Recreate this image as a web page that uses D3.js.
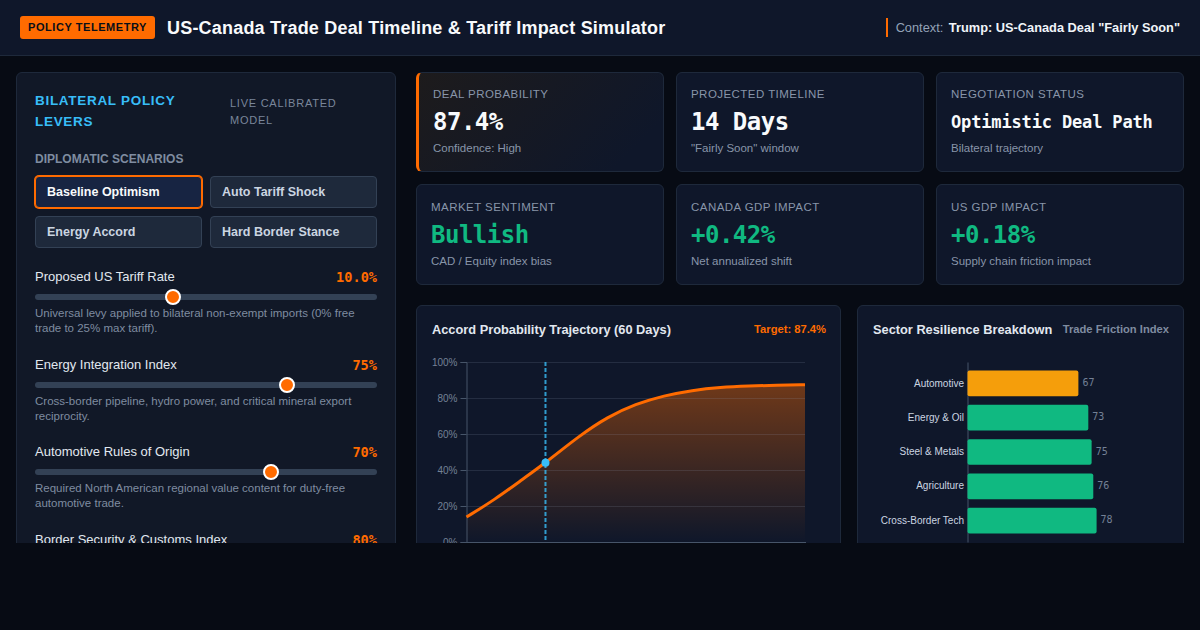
<!DOCTYPE html>
<html>
<head>
<meta charset="utf-8">
<style>
  * { box-sizing: border-box; }
  html, body { margin: 0; height: 100%; background: #070b14; overflow: hidden; }
  body { font-family: "Liberation Sans", Arial, sans-serif; color: #e2e8f0; }
  .mono { font-family: "DejaVu Sans Mono", monospace; font-weight: 700; }
  #app { position: relative; width: 1200px; height: 543px; overflow: hidden; }
  header { position: absolute; left: 0; top: 0; width: 1200px; height: 56px; background: #0f172a; border-bottom: 1px solid #1e293b; }
  .badge { position: absolute; left: 20px; top: 16px; width: 135px; height: 23px; background: #ff6b00; border-radius: 3px; color: #0a0f18; font-size: 11px; font-weight: 700; letter-spacing: .55px; line-height: 23px; text-align: center; }
  h1 { position: absolute; left: 167px; top: 16px; margin: 0; font-size: 18px; letter-spacing: .2px; line-height: 24px; font-weight: 700; color: #f8fafc; white-space: nowrap; }
  .context { position: absolute; right: 20px; top: 18px; height: 19px; border-left: 2px solid #ff6b00; padding-left: 8px; font-size: 12.8px; line-height: 19px; color: #94a3b8; white-space: nowrap; }
  .context b { color: #f1f5f9; margin-left: 2px; }
  #panel { position: absolute; left: 16px; top: 72px; width: 380px; height: 560px; background: #111827; border: 1px solid #1e293b; border-radius: 6px; }
  .ptitle { position: absolute; left: 18px; top: 17px; width: 170px; font-size: 13.5px; line-height: 21px; font-weight: 700; letter-spacing: .7px; color: #38bdf8; }
  .psub { position: absolute; left: 213px; top: 22px; width: 140px; font-size: 11px; line-height: 17px; letter-spacing: .75px; color: #7a869a; }
  .slabel { position: absolute; left: 18px; top: 79px; font-size: 12px; line-height: 14px; font-weight: 700; color: #7f8ca0; }
  #scenarios { position: absolute; left: 18px; top: 103px; width: 342px; display: grid; grid-template-columns: 1fr 1fr; gap: 8px; }
  .scenario { height: 32px; border: 1px solid #334155; border-radius: 4px; background: #1e293b; color: #cbd5e1; font-size: 12.5px; font-weight: 700; line-height: 30px; padding-left: 11px; }
  .scenario.on { background: #172442; border: 1px solid #ff6b00; box-shadow: 0 0 0 1px #ff6b00; color: #f8fafc; }
  .lever { position: absolute; left: 18px; width: 342px; height: 80px; }
  .lever .name { position: absolute; left: 0; top: 0; font-size: 13px; line-height: 16px; color: #e2e8f0; white-space: nowrap; }
  .lever .val { position: absolute; right: 0; top: 0; font-size: 13.6px; line-height: 16px; color: #ff6b00; }
  .lever .track { position: absolute; left: 0; top: 25px; width: 342px; height: 6px; border-radius: 3px; background: #334155; }
  .lever .thumb { position: absolute; top: 20px; width: 16px; height: 16px; margin-left: -8px; border-radius: 50%; background: #ff6b00; border: 2px solid #fff; }
  .lever .desc { position: absolute; left: 0; top: 37px; width: 342px; font-size: 11.5px; line-height: 15px; color: #7f8ca0; }
  #cards { position: absolute; left: 416px; top: 72px; width: 768px; display: grid; grid-template-columns: repeat(3, 248px); grid-template-rows: 100px 101px; gap: 12px; }
  .card { position: relative; background: #0f172a; border: 1px solid #1e293b; border-radius: 6px; padding: 0 14px; }
  .card.hot { border-left: 3px solid #ff6b00; background: linear-gradient(135deg, #1d1b1c, #0f172a 85%); }
  .card.low .lab, .card.low .note { margin-top: 1px; }
  .card.low .big { margin-top: 1px; }
  .card .lab { position: absolute; top: 14px; font-size: 11.5px; line-height: 14px; letter-spacing: .45px; color: #8895a9; text-transform: uppercase; white-space: nowrap; }
  .card .big { position: absolute; top: 34px; font-size: 24px; letter-spacing: -.5px; line-height: 30px; color: #f8fafc; white-space: nowrap; }
  .card .big.small { font-size: 17px; letter-spacing: -.15px; }
  .card .big.up { color: #10b981; }
  .card .note { position: absolute; top: 68px; font-size: 11.5px; line-height: 14px; color: #8895a9; white-space: nowrap; }
  .chart { position: absolute; top: 305px; height: 300px; background: #0f172a; border: 1px solid #1e293b; border-radius: 6px; }
  .chart svg { position: absolute; left: -1px; top: -1px; }
  .chart .ct { position: absolute; left: 15px; top: 16px; font-size: 12.8px; line-height: 16px; font-weight: 700; color: #e2e8f0; white-space: nowrap; }
  .chart .cr { position: absolute; right: 14px; top: 16px; font-size: 11.2px; line-height: 15px; font-weight: 700; white-space: nowrap; }
  .tick text { font-family: "Liberation Sans", Arial, sans-serif; }
</style>
</head>
<body>
<div id="app">
  <header>
    <div class="badge">POLICY TELEMETRY</div>
    <h1>US-Canada Trade Deal Timeline &amp; Tariff Impact Simulator</h1>
    <div class="context">Context: <b>Trump: US-Canada Deal "Fairly Soon"</b></div>
  </header>
  <div id="panel">
    <div class="ptitle">BILATERAL POLICY LEVERS</div>
    <div class="psub">LIVE CALIBRATED MODEL</div>
    <div class="slabel">DIPLOMATIC SCENARIOS</div>
    <div id="scenarios"></div>
  </div>
  <div id="cards"></div>
  <div class="chart" style="left:416px;width:425px" id="lineCard">
    <div class="ct">Accord Probability Trajectory (60 Days)</div>
    <div class="cr" style="color:#ff6b00">Target: 87.4%</div>
  </div>
  <div class="chart" style="left:857px;width:327px" id="barCard">
    <div class="ct">Sector Resilience Breakdown</div>
    <div class="cr" style="color:#7f8ca0">Trade Friction Index</div>
  </div>
</div>

<script src="https://cdn.jsdelivr.net/npm/d3@7"></script>
<script>
// scenarios
var scenarioNames = ["Baseline Optimism", "Auto Tariff Shock", "Energy Accord", "Hard Border Stance"];
var activeScenario = "Baseline Optimism";

// policy levers
var leverNames = ["Proposed US Tariff Rate", "Energy Integration Index", "Automotive Rules of Origin", "Border Security & Customs Index"];
var leverValues = [10, 75, 70, 80];
var leverMax = [25, 100, 100, 100];
var leverLabels = ["10.0%", "75%", "70%", "80%"];
var leverNotes = [
  "Universal levy applied to bilateral non-exempt imports (0% free trade to 25% max tariff).",
  "Cross-border pipeline, hydro power, and critical mineral export reciprocity.",
  "Required North American regional value content for duty-free automotive trade.",
  ""
];

// kpi cards
var cardLabels = ["Deal Probability", "Projected Timeline", "Negotiation Status", "Market Sentiment", "Canada GDP Impact", "US GDP Impact"];
var cardValues = ["87.4%", "14 Days", "Optimistic Deal Path", "Bullish", "+0.42%", "+0.18%"];
var cardNotes = ["Confidence: High", "\"Fairly Soon\" window", "Bilateral trajectory", "CAD / Equity index bias", "Net annualized shift", "Supply chain friction impact"];

// trajectory
var days = [0, 5, 10, 14, 20, 25, 30, 35, 40, 45, 50, 55, 60];
var probability = [13.9, 23.5, 35, 44, 59, 69.5, 76.7, 81.3, 84.3, 86, 86.7, 87.1, 87.4];
var yTicks = [0, 20, 40, 60, 80, 100];
var markerDay = 14;

// sectors
var sectors = ["Automotive", "Energy & Oil", "Steel & Metals", "Agriculture", "Cross-Border Tech"];
var sectorScores = [67, 73, 75, 76, 78];

d3.select("#scenarios").selectAll("div").data(scenarioNames).enter().append("div")
  .attr("class", function (d) { return d === activeScenario ? "scenario on" : "scenario"; })
  .text(function (d) { return d; });

// levers are spaced evenly down the panel
var leverY = d3.scaleLinear().domain([0, 1]).range([196, 283.5]);
leverNames.forEach(function (name, i) {
  var thumbX = d3.scaleLinear().domain([0, leverMax[i]]).range([7.3, 333.3]);
  var g = d3.select("#panel").append("div").attr("class", "lever").style("top", leverY(i) + "px");
  g.append("div").attr("class", "name").text(name);
  g.append("div").attr("class", "val mono").text(leverLabels[i]);
  g.append("div").attr("class", "track");
  g.append("div").attr("class", "thumb").style("left", thumbX(leverValues[i]) + "px");
  g.append("div").attr("class", "desc").text(leverNotes[i]);
});

var cards = d3.select("#cards").selectAll("div").data(cardLabels).enter().append("div")
  .attr("class", function (d, i) { return (i === 0 ? "card hot" : "card") + (i >= 3 ? " low" : ""); });
cards.append("div").attr("class", "lab").text(function (d) { return d; });
cards.append("div")
  .attr("class", function (d, i) { return "big mono" + (i === 2 ? " small" : "") + (i >= 3 ? " up" : ""); })
  .text(function (d, i) { return cardValues[i]; });
cards.append("div").attr("class", "note").text(function (d, i) { return cardNotes[i]; });

// line chart
var lineSvg = d3.select("#lineCard").append("svg").attr("width", 425).attr("height", 300);
var x = d3.scaleLinear().domain([0, 60]).range([50.5, 389]);
var y = d3.scaleLinear().domain([0, 100]).range([237, 57]);

var defs = lineSvg.append("defs");
var grad = defs.append("linearGradient").attr("id", "areaFill").attr("x1", 0).attr("y1", 0).attr("x2", 0).attr("y2", 1);
grad.append("stop").attr("offset", "0%").attr("stop-color", "#ff6b00").attr("stop-opacity", 0.4);
grad.append("stop").attr("offset", "100%").attr("stop-color", "#ff6b00").attr("stop-opacity", 0);

var pts = days.map(function (d, i) { return [d, probability[i]]; });
lineSvg.append("path").datum(pts)
  .attr("fill", "url(#areaFill)")
  .attr("d", d3.area().x(function (d) { return x(d[0]); }).y0(y(0)).y1(function (d) { return y(d[1]); }).curve(d3.curveBasis));

lineSvg.append("g").selectAll("line").data(yTicks.slice(1)).enter().append("line")
  .attr("x1", x(0)).attr("x2", x(60))
  .attr("y1", function (d) { return y(d) + 0.5; }).attr("y2", function (d) { return y(d) + 0.5; })
  .attr("stroke", "#94a3b8").attr("stroke-opacity", 0.16);

var yAxis = lineSvg.append("g").attr("transform", "translate(" + x(0) + ",0)")
  .call(d3.axisLeft(y).tickValues(yTicks).tickSize(6).tickFormat(function (d) { return d + "%"; }));
yAxis.selectAll("text").attr("fill", "#748196").style("font-size", "10px");
yAxis.selectAll("line").attr("stroke", "#475569");
yAxis.select(".domain").attr("stroke", "#475569");

lineSvg.append("line").attr("x1", x(0)).attr("x2", x(60) + 1).attr("y1", y(0) + 0.5).attr("y2", y(0) + 0.5).attr("stroke", "#475569");

lineSvg.append("line").attr("x1", x(markerDay)).attr("x2", x(markerDay)).attr("y1", y(100)).attr("y2", y(0) - 2)
  .attr("stroke", "#38bdf8").attr("stroke-width", 2).attr("stroke-dasharray", "4,2").attr("stroke-opacity", 0.8);

lineSvg.append("path").datum(pts)
  .attr("fill", "none").attr("stroke", "#ff6b00").attr("stroke-width", 3)
  .attr("d", d3.line().x(function (d) { return x(d[0]); }).y(function (d) { return y(d[1]); }).curve(d3.curveBasis));

lineSvg.append("circle").attr("cx", x(markerDay)).attr("cy", y(probability[days.indexOf(markerDay)])).attr("r", 4).attr("fill", "#38bdf8");

// bar chart
var barSvg = d3.select("#barCard").append("svg").attr("width", 327).attr("height", 300);
var bx = d3.scaleLinear().domain([0, 100]).range([110.5, 276]);
var by = d3.scaleBand().domain(sectors).range([57, 237]).padding(0.25);

var sAxis = barSvg.append("g").attr("transform", "translate(" + bx(0) + ",0)")
  .call(d3.axisLeft(by).tickSize(0).tickPadding(3.5));
sAxis.selectAll("text").attr("fill", "#cbd5e1").style("font-size", "10px");
sAxis.select(".domain").attr("stroke", "#475569");

barSvg.append("g").selectAll("rect").data(sectors).enter().append("rect")
  .attr("x", bx(0)).attr("y", function (d) { return by(d); })
  .attr("width", function (d, i) { return bx(sectorScores[i]) - bx(0); })
  .attr("height", by.bandwidth()).attr("rx", 2)
  .attr("fill", function (d, i) { return sectorScores[i] < 70 ? "#f59e0b" : "#10b981"; });

barSvg.append("g").selectAll("text").data(sectors).enter().append("text")
  .attr("x", function (d, i) { return bx(sectorScores[i]) + 4; })
  .attr("y", function (d) { return by(d) + by.bandwidth() / 2; })
  .attr("dy", "0.25em").attr("fill", "#748196")
  .style("font-family", '"DejaVu Sans Mono", monospace').style("font-size", "10px")
  .text(function (d, i) { return sectorScores[i]; });
</script>
</body>
</html>
